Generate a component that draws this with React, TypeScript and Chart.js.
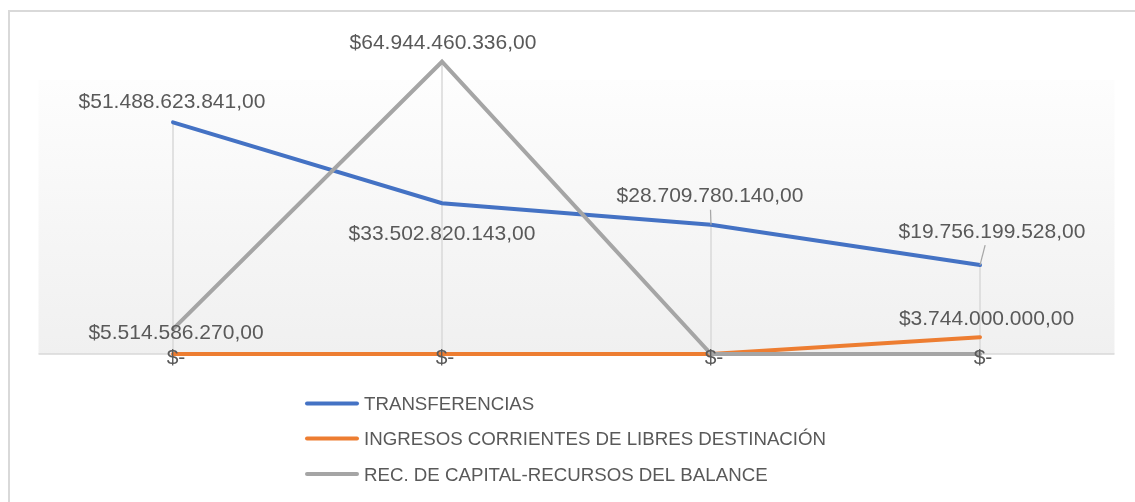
import React, { useEffect, useRef } from "react";
import { Chart, registerables } from "chart.js";

Chart.register(...registerables);

const categories = ["1", "2", "3", "4"];
const transferencias = [51488623841, 33502820143, 28709780140, 19756199528];
const ingresosCorrientes = [0, 0, 0, 3744000000];
const recCapital = [5514586270, 64944460336, 0, 0];
const seriesNames = [
  "TRANSFERENCIAS",
  "INGRESOS CORRIENTES DE LIBRES DESTINACIÓN",
  "REC. DE CAPITAL-RECURSOS DEL BALANCE",
];
const seriesColors = ["#4472C4", "#ED7D31", "#A5A5A5"];
const yMax = 70000000000;

// label centre offsets (dx, dy) relative to each point, per series
const labelOffsets = [
  [[-1, -21.5], [0, 29], [-1, -30], [12, -35]],
  [[3, 2], [3, 2], [3, 2], [6.5, -20]],
  [[3, 2], [1, -20], [3, 2], [3, 2]],
];
const leaderLines = [
  [false, false, true, true],
  [false, false, false, false],
  [false, false, false, false],
];

const TEXT = "#595959";
const FONT = "'Liberation Sans', Arial, sans-serif";

function fmt(v: number): string {
  if (v === 0) return "$-";
  const [i, d] = v.toFixed(2).split(".");
  return "$" + i.replace(/\B(?=(\d{3})+(?!\d))/g, ".") + "," + d;
}

const decor = {
  id: "decor",
  beforeDatasetsDraw(chart: any) {
    const { ctx, chartArea } = chart;
    const { left, right, top, bottom } = chartArea;
    const xs = chart.scales.x;
    const ys = chart.scales.y;
    ctx.save();
    // outer border
    ctx.strokeStyle = "#D9D9D9";
    ctx.lineWidth = 2;
    ctx.strokeRect(9, 11, chart.width + 20, chart.height + 20);
    // plot background gradient
    const gTop = top + 41;
    const g = ctx.createLinearGradient(0, gTop, 0, bottom);
    g.addColorStop(0, "#FDFDFD");
    g.addColorStop(1, "#F0F0F0");
    ctx.fillStyle = g;
    ctx.fillRect(left, gTop, right - left, bottom - gTop);
    // drop lines
    const all = chart.data.datasets.map((d: any) => d.data as number[]);
    ctx.strokeStyle = "#D9D9D9";
    ctx.lineWidth = 1.5;
    categories.forEach((_, i) => {
      const mx = Math.max(...all.map((a: number[]) => a[i]));
      const x = xs.getPixelForValue(i);
      const y = ys.getPixelForValue(mx);
      ctx.beginPath();
      ctx.moveTo(x, y);
      ctx.lineTo(x, bottom + 10);
      ctx.stroke();
    });
    // axis line
    ctx.strokeStyle = "#D9D9D9";
    ctx.lineWidth = 1.5;
    ctx.beginPath();
    ctx.moveTo(left, ys.getPixelForValue(0));
    ctx.lineTo(right, ys.getPixelForValue(0));
    ctx.stroke();
    ctx.restore();
  },
  afterDatasetsDraw(chart: any) {
    const { ctx } = chart;
    const xs = chart.scales.x;
    const ys = chart.scales.y;
    ctx.save();
    const size = 21;
    ctx.font = `${size}px ${FONT}`;
    ctx.textAlign = "center";
    ctx.textBaseline = "alphabetic";
    const drawnZero: Record<number, boolean> = {};
    chart.data.datasets.forEach((ds: any, si: number) => {
      (ds.data as number[]).forEach((v, i) => {
        if (v === 0) {
          if (drawnZero[i]) return;
          drawnZero[i] = true;
        }
        const px = xs.getPixelForValue(i);
        const py = ys.getPixelForValue(v);
        const [dx, dy] = labelOffsets[si][i];
        const cx = px + dx;
        const cy = py + dy;
        if (leaderLines[si][i]) {
          const sy = cy + 15;
          const t = (py - sy) / (py - cy);
          const sx = px + (cx - px) * (1 - t);
          ctx.strokeStyle = "#A6A6A6";
          ctx.lineWidth = 1.25;
          ctx.beginPath();
          ctx.moveTo(sx, sy);
          ctx.lineTo(px, py);
          ctx.stroke();
        }
        ctx.fillStyle = TEXT;
        ctx.fillText(fmt(v), cx, cy + size * 0.358);
      });
    });
    ctx.restore();
  },
  afterDraw(chart: any) {
    const { ctx } = chart;
    ctx.save();
    const size = 18.7;
    ctx.font = `${size}px ${FONT}`;
    ctx.textAlign = "left";
    ctx.textBaseline = "alphabetic";
    const rows = [403.5, 438.5, 474];
    seriesNames.forEach((name, i) => {
      const y = rows[i];
      ctx.strokeStyle = seriesColors[i];
      ctx.lineWidth = 4;
      ctx.lineCap = "round";
      ctx.beginPath();
      ctx.moveTo(307, y);
      ctx.lineTo(357, y);
      ctx.stroke();
      ctx.fillStyle = TEXT;
      ctx.fillText(name, 364, y + size * 0.358);
    });
    ctx.restore();
  },
};

export default function App() {
  const ref = useRef<HTMLCanvasElement | null>(null);
  useEffect(() => {
    if (!ref.current) return;
    const series = [transferencias, ingresosCorrientes, recCapital];
    const chart = new Chart(ref.current, {
      type: "line",
      data: {
        labels: categories,
        datasets: series.map((d, i) => ({
          label: seriesNames[i],
          data: d,
          borderColor: seriesColors[i],
          backgroundColor: seriesColors[i],
          borderWidth: 4,
          pointRadius: 0,
          pointHoverRadius: 0,
          borderCapStyle: "round" as const,
          tension: 0,
          clip: false as any,
          order: 3 - i,
        })),
      },
      options: {
        responsive: false,
        animation: false,
        events: [],
        layout: { padding: { left: 38.5, right: 20.5, top: 39, bottom: 148 } },
        scales: {
          x: { type: "category", offset: true, display: false },
          y: { min: 0, max: yMax, display: false },
        },
        plugins: {
          legend: { display: false },
          tooltip: { enabled: false },
        },
      },
      plugins: [decor],
    });
    return () => chart.destroy();
  }, []);
  return (
    <div style={{ position: "fixed", left: 0, top: 0, width: 1135, height: 502, background: "#fff" }}>
      <canvas ref={ref} width={1135} height={502} style={{ display: "block" }} />
    </div>
  );
}
